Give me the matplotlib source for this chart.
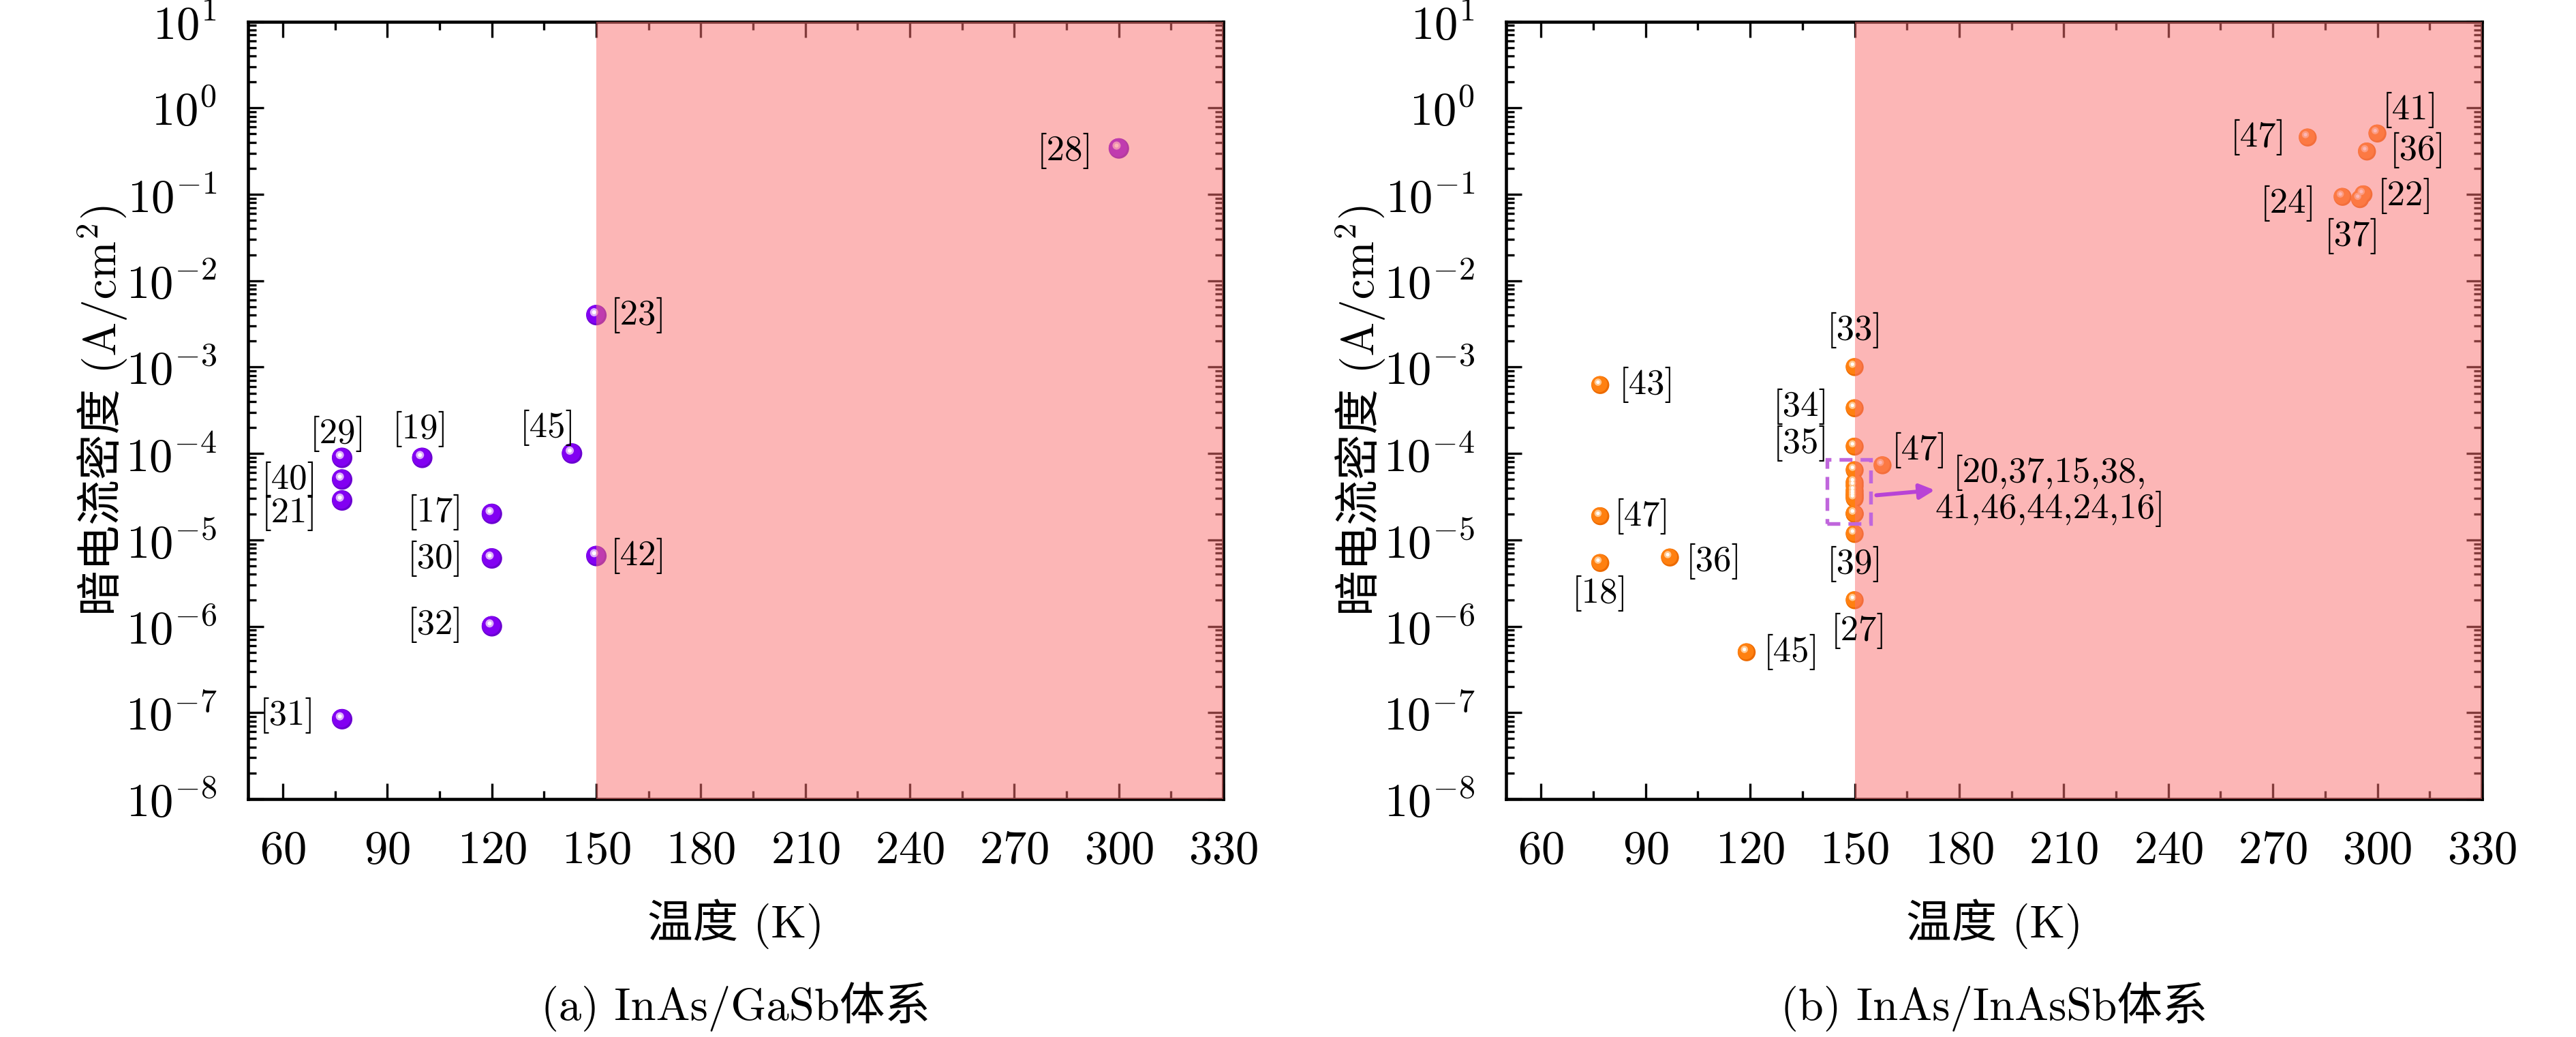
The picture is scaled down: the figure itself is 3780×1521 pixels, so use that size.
import matplotlib
matplotlib.use('Agg')
import matplotlib.pyplot as plt
from matplotlib.patches import Rectangle
from matplotlib.ticker import MultipleLocator, LogLocator, NullFormatter
from matplotlib.transforms import offset_copy

plt.rcParams['font.family'] = ['cmr10', 'Noto Sans CJK SC']
plt.rcParams['mathtext.fontset'] = 'cm'
plt.rcParams['axes.formatter.use_mathtext'] = True
plt.rcParams['axes.unicode_minus'] = False

# (a) InAs/GaSb
gasb_T = [300, 150, 150, 143, 77, 77, 77, 100, 120, 120, 120, 77]
gasb_J = [0.34, 4.0e-3, 6.5e-6, 1.0e-4, 8.9e-5, 5.0e-5, 2.86e-5, 8.9e-5, 2.0e-5, 6.1e-6, 1.0e-6, 8.4e-8]
gasb_refs = ['[28]', '[23]', '[42]', '[45]', '[29]', '[40]', '[21]', '[19]', '[17]', '[30]', '[32]', '[31]']

# (b) InAs/InAsSb, labelled points
insb_T = [77, 77, 77, 97, 119, 150, 150, 150, 158, 150, 150, 280, 300, 297, 290, 296, 295]
insb_J = [6.2e-4, 1.88e-5, 5.4e-6, 6.25e-6, 5.0e-7, 1.0e-3, 3.34e-4, 1.2e-4, 7.3e-5, 1.17e-5, 2.0e-6,
          0.455, 0.506, 0.313, 0.0935, 0.1, 0.088]
insb_refs = ['[43]', '[47]', '[18]', '[36]', '[45]', '[33]', '[34]', '[35]', '[47]', '[39]', '[27]',
             '[47]', '[41]', '[36]', '[24]', '[22]', '[37]']
# (b) cluster at 150 K
cluster_T = [150, 150, 150, 150, 150, 150, 150, 150, 150]
cluster_J = [6.4e-5, 4.6e-5, 4.2e-5, 3.7e-5, 3.4e-5, 3.2e-5, 3.0e-5, 2.0e-5, 2.0e-5]
cluster_label = '[20,37,15,38,\n41,46,44,24,16]'

# label placement: (dx pt, dy pt, ha)
gasb_place = [(-9, -1, 'right'), (5, 0, 'left'), (5, 0, 'left'), (-8.5, 9, 'center'),
              (-1.5, 8.5, 'center'), (-8.7, 0, 'right'), (-8.7, -4.4, 'right'), (-0.7, 10, 'center'),
              (-10, 0.5, 'right'), (-10, 0, 'right'), (-10, 0.5, 'right'), (-9.4, 1.2, 'right')]
insb_place = [(6.5, 0, 'left'), (5, 0, 'left'), (0, -10.7, 'center'), (5.6, -1.4, 'left'),
              (6, 0, 'left'), (0, 13, 'center'), (-9, 0.5, 'right'), (-9, 1.2, 'right'),
              (3.3, 5.4, 'left'), (0, -10.5, 'center'), (1.5, -10.7, 'center'),
              (-7.6, 0, 'right'), (11.6, 8.2, 'center'), (8, 0.5, 'left'), (-9.3, -2.4, 'right'),
              (5, -0.5, 'left'), (-2.8, -13, 'center')]

fig = plt.figure(figsize=(12.6, 5.07), dpi=300)
ax1 = fig.add_axes([0.0963, 0.2295, 0.3786, 0.7497])
ax2 = fig.add_axes([0.5847, 0.2295, 0.3788, 0.7497])


def spheres(ax, x, y, dark, color, mid, s):
    ax.scatter(x, y, s=s, color=dark, edgecolors='none', zorder=2)
    t0 = offset_copy(ax.transData, fig=fig, x=-0.3, y=0.3, units='points')
    ax.scatter(x, y, s=s * 0.8, color=color, edgecolors='none', zorder=2, transform=t0)
    t1 = offset_copy(ax.transData, fig=fig, x=-0.8, y=1.0, units='points')
    ax.scatter(x, y, s=s * 0.16, color=mid, edgecolors='none', zorder=2, transform=t1)
    ax.scatter(x, y, s=s * 0.04, color='white', edgecolors='none', zorder=2, transform=t1)


def style(ax, xlabel, caption):
    ax.set_yscale('log')
    ax.set_xlim(50, 330)
    ax.set_ylim(1e-8, 1e1)
    ax.xaxis.set_major_locator(MultipleLocator(30))
    ax.xaxis.set_minor_locator(MultipleLocator(15))
    ax.yaxis.set_major_locator(LogLocator(base=10, numticks=20))
    ax.yaxis.set_minor_locator(LogLocator(base=10, subs=range(2, 10), numticks=20))
    ax.yaxis.set_minor_formatter(NullFormatter())
    ax.tick_params(which='both', direction='in', top=True, right=True, width=0.8,
                   labelsize=16.5, pad=11)
    ax.tick_params(which='major', length=5.5)
    ax.tick_params(which='minor', length=2.9)
    for sp in ax.spines.values():
        sp.set_linewidth(1.1)
    ax.set_xlabel(xlabel, fontsize=16)
    ax.xaxis.set_label_coords(0.5, -0.128)
    ax.axvspan(150, 330, color='#FA7373', alpha=0.52, lw=0, zorder=2.7)
    pos = ax.get_position()
    fig.text(pos.x0 + pos.width / 2, 0.029, caption, ha='center', va='center', fontsize=16)


def ylabel(ax, part1, part2):
    # cmr10 has no proper superscript-two glyph, so the label is built from two pieces
    pos = ax.get_position()
    W, H = fig.get_size_inches() * fig.dpi
    xb = pos.x0 - 194 / W
    yc = pos.y0 + pos.height / 2
    kw = dict(rotation=90, rotation_mode='anchor', ha='left', va='baseline', fontsize=16)
    t1 = fig.text(xb, 0, part1, **kw)
    t2 = fig.text(xb, 0, part2, **kw)
    r = fig.canvas.get_renderer()
    l1 = t1.get_window_extent(r).height / H
    l2 = t2.get_window_extent(r).height / H
    y0 = yc - (l1 + l2) / 2
    t1.set_y(y0)
    t2.set_y(y0 + l1)


def labels(ax, x, y, refs, place):
    for xi, yi, r, (dx, dy, ha) in zip(x, y, refs, place):
        ax.annotate(r, (xi, yi), xytext=(dx, dy), textcoords='offset points',
                    ha=ha, va='center', fontsize=12.7, zorder=3)


style(ax1, '温度 (K)', '(a) InAs/GaSb体系')
style(ax2, '温度 (K)', '(b) InAs/InAsSb体系')
ylabel(ax1, '暗电流密度 (A/cm', '$^2$)')
ylabel(ax2, '暗电流密度 (A/cm', '$^2$)')

spheres(ax1, gasb_T, gasb_J, '#6A00D0', '#8200F2', '#DDB0FA', 52)
labels(ax1, gasb_T, gasb_J, gasb_refs, gasb_place)

spheres(ax2, cluster_T, cluster_J, '#EC6A00', '#FF8010', '#FFC890', 40)
spheres(ax2, insb_T, insb_J, '#EC6A00', '#FF8010', '#FFC890', 40)
labels(ax2, insb_T, insb_J, insb_refs, insb_place)

ax2.add_patch(Rectangle((142, 1.55e-5), 12.6, 8.5e-5 - 1.55e-5, fill=False,
                        ls=(0, (3.5, 2.2)), lw=1.3, ec='#C066DC', zorder=4))
ax2.annotate('', xy=(174.6, 3.82e-5), xytext=(154.6, 3.24e-5),
             arrowprops=dict(arrowstyle='-|>', color='#B843D6', lw=1.4, mutation_scale=11),
             zorder=4)
ax2.text(206, 3.7e-5, cluster_label, ha='center', va='center', fontsize=12.7,
         linespacing=1.0, multialignment='center', zorder=4)

fig.savefig('out.png', dpi=300)
